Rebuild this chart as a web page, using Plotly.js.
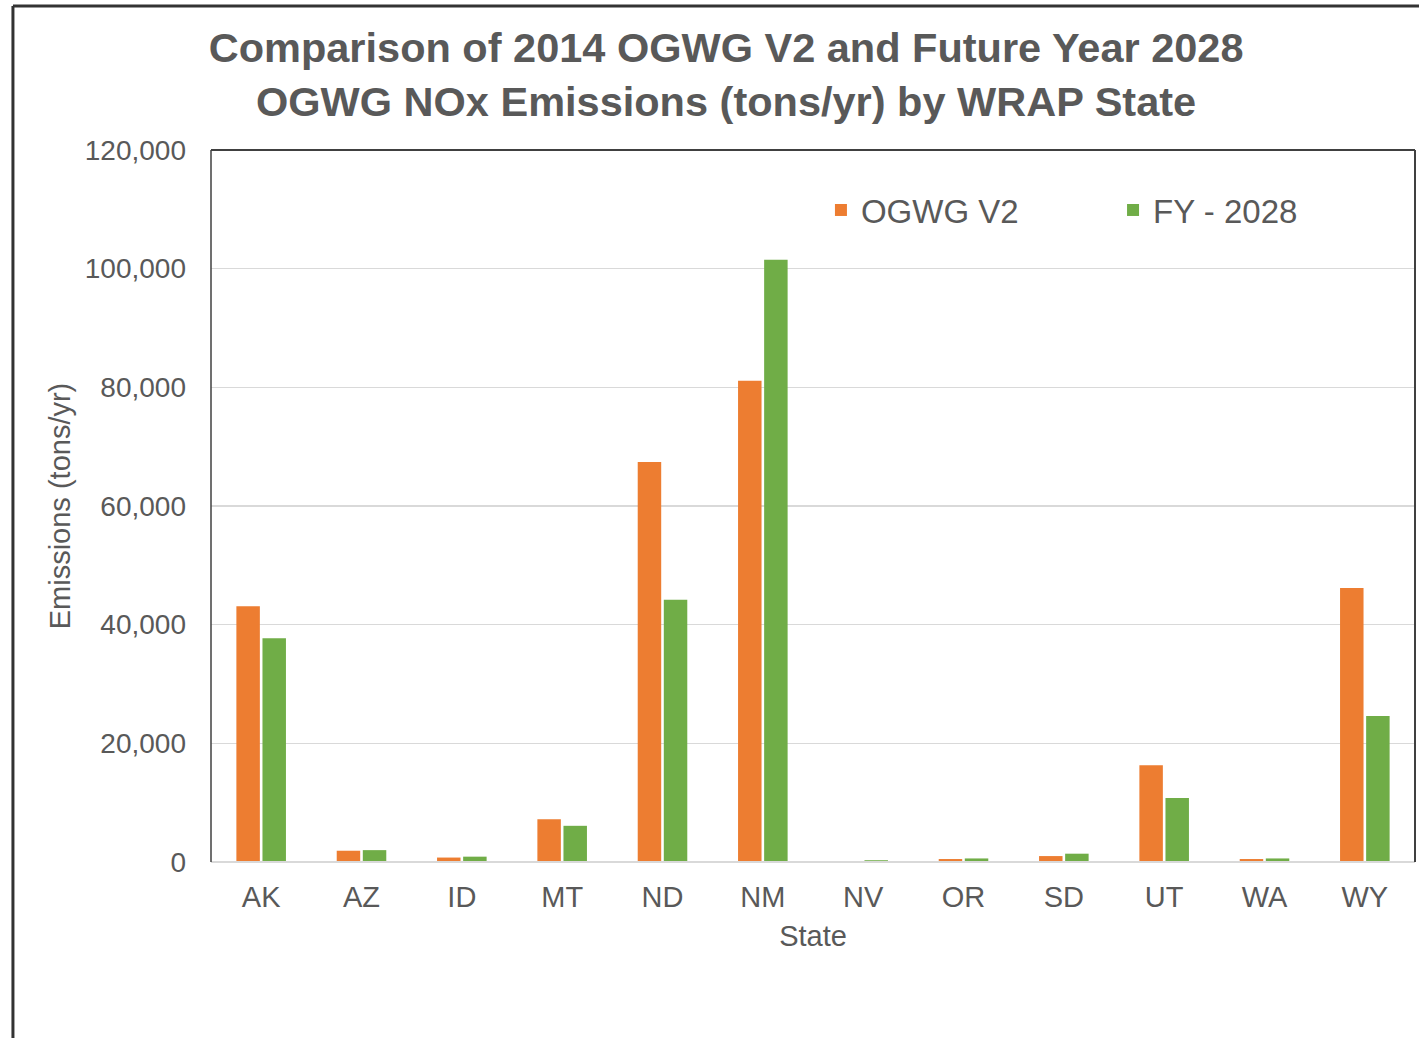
<!DOCTYPE html>
<html>
<head>
<meta charset="utf-8">
<script src="https://cdn.plot.ly/plotly-3.0.1.min.js"></script>
<style>html,body{margin:0;padding:0;background:#fff;overflow:hidden;}#chart{width:1419px;height:1038px;}</style>
</head>
<body>
<div id="chart"></div>
<script>
const states = ['AK','AZ','ID','MT','ND','NM','NV','OR','SD','UT','WA','WY'];
const ogwgV2 = [43100, 1900, 750, 7200, 67400, 81100, 50, 500, 1000, 16300, 500, 46200];
const fy2028 = [37700, 2000, 900, 6100, 44200, 101500, 300, 600, 1400, 10800, 600, 24600];
const yTicks = [0, 20000, 40000, 60000, 80000, 100000, 120000];
const yTickText = ['0', '20,000', '40,000', '60,000', '80,000', '100,000', '120,000'];

const FONT = '"Liberation Sans", Arial, sans-serif';
const GREY = '#595959';

const traces = [
  {type: 'bar', name: 'OGWG V2', x: states, y: ogwgV2, marker: {color: '#ED7D31'}, legend: 'legend', showlegend: true},
  {type: 'bar', name: 'FY - 2028', x: states, y: fy2028, marker: {color: '#70AD47'}, legend: 'legend2', showlegend: true}
];

function legendAt(xPos) {
  return {
    orientation: 'h', xanchor: 'left', yanchor: 'middle', y: 0.9157, x: xPos,
    font: {size: 33, color: GREY}, bgcolor: 'rgba(0,0,0,0)', visible: true
  };
}

const layout = {
  width: 1419, height: 1038,
  margin: {l: 211, r: 4, t: 150, b: 176},
  paper_bgcolor: '#fff', plot_bgcolor: '#fff',
  font: {family: FONT, color: GREY},
  showlegend: true,
  barmode: 'group', bargap: 0.48, bargroupgap: 0.1,
  title: {
    text: 'Comparison of 2014 OGWG V2 and Future Year 2028<br>OGWG NOx Emissions (tons/yr) by WRAP State',
    font: {family: FONT, size: 41.5, color: GREY, weight: 'bold'},
    xref: 'container', x: 0.5117, xanchor: 'center',
    yref: 'container', y: 0.94, yanchor: 'top'
  },
  xaxis: {
    type: 'category',
    tickfont: {size: 29, color: GREY},
    ticks: '', ticklabelstandoff: 15,
    showline: false, showgrid: false, zeroline: false,
    title: {text: 'State', font: {size: 29, color: GREY}, standoff: 13},
    automargin: false
  },
  yaxis: {
    range: [0, 120000],
    tickvals: yTicks, ticktext: yTickText,
    tickfont: {size: 28, color: GREY},
    ticks: '', ticklabelstandoff: 24,
    showgrid: true, gridcolor: '#d9d9d9', gridwidth: 1.5,
    zeroline: false, showline: false,
    title: {text: 'Emissions (tons/yr)', font: {size: 29, color: GREY}, standoff: 5},
    automargin: false
  },
  legend: legendAt(0.5066),
  legend2: legendAt(0.7492),
  shapes: [
    {type: 'line', xref: 'paper', yref: 'paper', x0: 0, x1: 1, y0: 0, y1: 0, line: {color: '#d9d9d9', width: 2}},
    {type: 'line', xref: 'paper', yref: 'paper', x0: 0, x1: 0, y0: 0, y1: 1, line: {color: '#404040', width: 1.5}},
    {type: 'line', xref: 'paper', yref: 'paper', x0: 0, x1: 1, y0: 1, y1: 1, line: {color: '#404040', width: 2}},
    {type: 'line', xref: 'paper', yref: 'paper', x0: 1, x1: 1, y0: 0, y1: 1, line: {color: '#404040', width: 2}},
    {type: 'line', xref: 'paper', yref: 'paper', x0: -0.1645, x1: -0.1645, y0: -0.3, y1: 1.2022, line: {color: '#333333', width: 3}},
    {type: 'line', xref: 'paper', yref: 'paper', x0: -0.1645, x1: 1.1, y0: 1.2022, y1: 1.2022, line: {color: '#333333', width: 3}}
  ]
};

Plotly.newPlot('chart', traces, layout, {displayModeBar: false, staticPlot: true});
</script>
</body>
</html>
